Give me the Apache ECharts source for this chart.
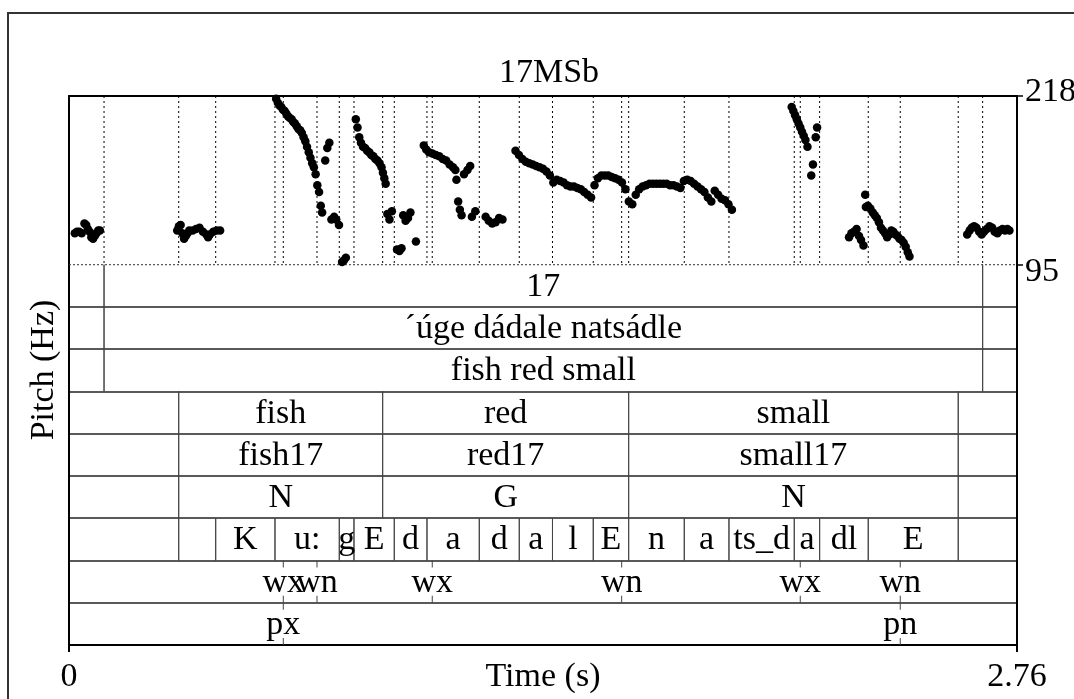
<!DOCTYPE html>
<html><head><meta charset="utf-8">
<script src="https://cdn.jsdelivr.net/npm/echarts@6/dist/echarts.min.js"></script>
<style>html,body{margin:0;padding:0;background:#fff}#c{width:1074px;height:699px}</style>
</head><body><div id="c"></div><script>
const FONT = '"Liberation Serif","Times New Roman",serif';
const FS = 34;
const chartTitle = '17MSb';
const timeMax = 2.76;
const timeTicks = [0, 2.76];
const pitchTicks = [95, 218];

// pitch track (s, Hz)
const pitchTimes = [
 0.017,0.023,0.030,0.037,0.045,0.050,0.055,0.060,0.065,0.070,0.075,0.080,0.085,0.090,
 0.315,0.320,0.325,0.330,0.335,0.340,0.345,0.350,0.360,0.370,0.380,0.390,0.400,0.405,0.410,0.420,0.430,0.440,
 0.598,0.603,0.608,0.613,0.618,0.623,0.628,0.633,0.638,0.643,0.648,0.653,0.658,0.663,0.668,0.673,0.678,0.683,0.688,0.693,0.698,0.703,0.708,0.713,0.718,0.723,0.728,0.733,0.737,
 0.746,0.752,0.758,0.764,0.772,0.778,0.786,0.795,0.800,0.806,
 0.835,0.840,0.845,0.850,0.856,0.862,0.868,0.874,0.880,0.886,0.892,0.898,0.904,0.910,0.914,0.918,0.922,
 0.927,0.933,0.940,0.955,0.962,0.968,0.973,0.980,0.987,0.994,1.010,
 1.033,1.040,1.048,1.058,1.068,1.078,1.088,1.098,1.108,1.118,1.125,1.128,1.133,1.138,1.143,1.150,1.160,1.168,1.173,1.183,
 1.213,1.222,1.232,1.242,1.252,1.262,
 1.30,1.31,1.32,1.33,1.34,1.35,1.36,1.37,1.38,1.39,1.40,1.41,1.42,1.43,1.44,1.45,1.46,1.47,1.48,1.49,
 1.50,1.51,1.52,1.53,1.54,1.55,1.56,1.57,1.58,1.59,1.60,1.61,1.62,1.63,1.64,1.65,1.66,1.67,1.68,1.69,
 1.70,1.71,1.72,1.73,1.74,1.75,1.76,1.77,1.78,1.79,1.80,1.81,1.82,1.83,1.84,1.85,1.86,1.87,1.88,1.89,
 1.90,1.91,1.92,1.93,
 2.104,2.109,2.114,2.119,2.124,2.129,2.134,2.139,2.144,2.150,2.161,2.166,2.174,2.178,
 2.271,2.278,2.285,2.293,2.300,2.306,2.313,
 2.318,2.320,2.326,2.333,2.340,2.346,2.352,2.358,2.364,2.370,2.376,2.382,2.388,2.394,2.400,2.406,2.412,2.418,2.424,2.430,2.436,2.442,2.447,
 2.615,2.622,2.628,2.635,2.642,2.650,2.657,2.664,2.672,2.680,2.688,2.695,2.703,2.710,2.718,2.725,2.732,2.738
];
const pitchHz = [
 118,119,119,118,125,124,121,119,115,114,116,118,120,120,
 120,123,124,118,114,116,118,120,120,121,122,119,117,115,117,119,120,120,
 219,216,213,211,210,208,207,205,203,202,201,199,198,196,194,193,191,188,185,181,177,173,169,166,161,153,148,138,133,
 171,180,184,128,130,128,124,97,98,100,
 201,195,188,184,181,180,178,177,175,174,172,171,169,166,162,158,154,
 132,128,134,106,105,107,131,127,129,133,112,
 182,179,177,176,175,174,172,171,168,166,164,157,141,135,131,161,164,167,130,134,
 130,127,125,126,129,128,
 178,175,172,170,169,168,167,166,165,163,160,155,157,156,155,153,152,152,151,150,
 148,146,144,153,158,160,160,160,159,158,157,155,150,141,139,146,150,152,153,154,
 154,154,154,154,154,153,153,152,151,156,157,156,154,152,150,148,144,141,149,146,
 143,142,139,135,
 210,207,204,201,198,195,192,189,186,181,160,168,188,195,
 115,118,119,121,116,113,109,
 146,137,138,136,133,131,129,126,122,120,118,115,117,120,119,117,116,114,113,111,108,104,101,
 117,120,122,123,122,119,117,119,121,123,122,119,118,120,121,120,121,120
];

// interval tiers
const sentenceBounds = [0, 0.102, 2.660, 2.76];
const tierNumLabels = ['', '17', ''];
const tierSentLabels = ['', '´úge dádale natsádle', ''];
const tierTransLabels = ['', 'fish red small', ''];
const wordBounds = [0, 0.3194, 0.9132, 1.6294, 2.5889, 2.76];
const wordLabels = ['', 'fish', 'red', 'small', ''];
const word17Labels = ['', 'fish17', 'red17', 'small17', ''];
const posLabels = ['', 'N', 'G', 'N', ''];
const phoneBounds = [0, 0.3194, 0.4271, 0.5997, 0.7869, 0.8297, 0.9470, 1.0422, 1.1945, 1.3109, 1.4076, 1.5263, 1.6294, 1.7913, 1.9214, 2.1115, 2.1854, 2.3269, 2.5889, 2.76];
const phoneLabels = ['', '', 'K', 'u:', 'g', 'E', 'd', 'a', 'd', 'a', 'l', 'E', 'n', 'a', 'ts_d', 'a', 'dl', 'E', ''];
// point tiers
const toneTimes = [0.6239, 0.7220, 1.0576, 1.6090, 2.1290, 2.4201];
const toneLabels = ['wx', 'wn', 'wx', 'wn', 'wx', 'wn'];
const phraseTimes = [0.6239, 2.4201];
const phraseLabels = ['px', 'pn'];

const intervalTiers = [
  [sentenceBounds, tierNumLabels],
  [sentenceBounds, tierSentLabels],
  [sentenceBounds, tierTransLabels],
  [wordBounds, wordLabels],
  [wordBounds, word17Labels],
  [wordBounds, posLabels],
  [phoneBounds, phoneLabels]
];
const pointTiers = [[7, toneTimes, toneLabels], [8, phraseTimes, phraseLabels]];

const intervalData = [], intervalText = [];
intervalTiers.forEach(([b, labs], ti) => {
  for (let i = 0; i < labs.length; i++) { intervalData.push([ti, b[i], b[i + 1]]); intervalText.push(labs[i]); }
});
const pointData = [], pointText = [];
pointTiers.forEach(([ti, ts, labs]) => ts.forEach((t, i) => { pointData.push([ti, t]); pointText.push(labs[i]); }));

const boundarySet = new Set();
intervalTiers.forEach(([b]) => b.forEach(t => { if (t > 0 && t < timeMax) boundarySet.add(t); }));
pointTiers.forEach(([, ts]) => ts.forEach(t => boundarySet.add(t)));
const boundaryTimes = Array.from(boundarySet).sort((a, b) => a - b);

const pitchData = pitchTimes.map((t, i) => [t, pitchHz[i]]);
const black = '#000';
const txt = {fontSize: FS, fontFamily: FONT, color: black};

const chart = echarts.init(document.getElementById('c'), null, {renderer: 'canvas'});
chart.setOption({
  animation: false,
  backgroundColor: '#fff',
  title: {text: chartTitle, left: 549, top: 56, textAlign: 'center', padding: 0,
    textStyle: {fontSize: FS, fontFamily: FONT, fontWeight: 'normal', color: black}},
  graphic: [
    {type: 'rect', shape: {x: 8, y: 13, width: 1200, height: 900}, style: {fill: 'none', stroke: '#333', lineWidth: 2}, silent: true},
    {type: 'text', x: 44, y: 370, rotation: Math.PI / 2, style: {text: 'Pitch (Hz)', align: 'center', verticalAlign: 'middle', fontSize: FS, fontFamily: FONT, fill: black}}
  ],
  grid: [
    {left: 69, top: 96, width: 948, height: 168.7, outerBoundsMode: 'none', containLabel: false},
    {left: 69, top: 264.7, width: 948, height: 380.3, outerBoundsMode: 'none', containLabel: false}
  ],
  xAxis: [
    {gridIndex: 0, type: 'value', min: 0, max: timeMax, position: 'top',
      axisLine: {show: true, onZero: false, lineStyle: {color: black, width: 2}},
      axisTick: {show: false}, axisLabel: {show: false}, splitLine: {show: false}},
    {gridIndex: 1, type: 'value', min: 0, max: timeMax, position: 'bottom',
      axisLine: {show: true, onZero: false, lineStyle: {color: black, width: 2}},
      axisTick: {show: true, length: 7, customValues: timeTicks, lineStyle: {color: black, width: 2}},
      axisLabel: Object.assign({customValues: timeTicks, margin: 15, showMinLabel: true, showMaxLabel: true}, txt),
      splitLine: {show: false},
      name: 'Time (s)', nameLocation: 'middle', nameGap: 15, nameMoveOverlap: false, nameTextStyle: txt}
  ],
  yAxis: [
    {gridIndex: 0, type: 'value', min: 95, max: 218, position: 'left',
      axisLine: {show: true, onZero: false, lineStyle: {color: black, width: 2}},
      axisTick: {show: false}, axisLabel: {show: false}, splitLine: {show: false}},
    {gridIndex: 0, type: 'value', min: 95, max: 218, position: 'right',
      axisLine: {show: true, onZero: false, lineStyle: {color: black, width: 2}},
      axisTick: {show: true, length: 6, customValues: pitchTicks, lineStyle: {color: black, width: 1.5}},
      axisLabel: {customValues: pitchTicks, margin: 8,
        formatter: v => (v === 218 ? '{a|' + v + '}' : '{b|' + v + '}'),
        rich: {a: Object.assign({padding: [0, 0, 7, 0]}, txt), b: Object.assign({padding: [14, 0, 0, 0]}, txt)}},
      splitLine: {show: false}},
    {gridIndex: 1, type: 'value', min: 0, max: 9, interval: 1, inverse: true, position: 'left',
      axisLine: {show: true, onZero: false, lineStyle: {color: black, width: 2}},
      axisTick: {show: false}, axisLabel: {show: false},
      splitLine: {show: true, showMinLine: false, showMaxLine: false, lineStyle: {color: '#222', width: 1.5}}},
    {gridIndex: 1, type: 'value', min: 0, max: 9, inverse: true, position: 'right',
      axisLine: {show: true, onZero: false, lineStyle: {color: black, width: 2}},
      axisTick: {show: false}, axisLabel: {show: false}, splitLine: {show: false}}
  ],
  series: [
    {type: 'custom', xAxisIndex: 0, yAxisIndex: 0, z: 1, silent: true, data: boundaryTimes.map(t => [t]),
      renderItem: (p, api) => {
        const a = api.coord([api.value(0), 218]), b = api.coord([api.value(0), 95]);
        return {type: 'line', shape: {x1: a[0], y1: a[1], x2: b[0], y2: b[1]},
          style: {stroke: black, lineWidth: 1, lineDash: [2, 3]}};
      }},
    {type: 'custom', xAxisIndex: 0, yAxisIndex: 0, z: 1, silent: true, data: [[0, 95, timeMax]],
      renderItem: (p, api) => {
        const a = api.coord([api.value(0), api.value(1)]), b = api.coord([api.value(2), api.value(1)]);
        return {type: 'line', shape: {x1: a[0], y1: a[1], x2: b[0], y2: b[1]},
          style: {stroke: '#333', lineWidth: 1, lineDash: [2, 2]}};
      }},
    {type: 'scatter', xAxisIndex: 0, yAxisIndex: 0, z: 3, symbol: 'circle', symbolSize: 8.5,
      itemStyle: {color: black, opacity: 1}, data: pitchData},
    {type: 'custom', xAxisIndex: 1, yAxisIndex: 2, z: 2, silent: true, data: intervalData,
      renderItem: (p, api) => {
        const ti = api.value(0), s = api.value(1), e = api.value(2);
        const top = api.coord([s, ti])[1], bot = api.coord([s, ti + 1])[1];
        const xs = api.coord([s, ti])[0], xe = api.coord([e, ti])[0];
        const ch = [];
        const ls = {stroke: '#444', lineWidth: 1};
        if (s > 0) ch.push({type: 'line', shape: {x1: xs, y1: top, x2: xs, y2: bot}, style: ls});
        if (e < timeMax) ch.push({type: 'line', shape: {x1: xe, y1: top, x2: xe, y2: bot}, style: ls});
        const lab = intervalText[p.dataIndex];
        if (lab) ch.push({type: 'text', z2: 5, style: {text: lab, x: (xs + xe) / 2, y: (top + bot) / 2 + 1,
          align: 'center', verticalAlign: 'middle', fontSize: FS, fontFamily: FONT, fill: black}});
        return {type: 'group', children: ch};
      }},
    {type: 'custom', xAxisIndex: 1, yAxisIndex: 2, z: 2, silent: true, data: pointData,
      renderItem: (p, api) => {
        const ti = api.value(0), t = api.value(1);
        const top = api.coord([t, ti])[1], bot = api.coord([t, ti + 1])[1];
        const x = api.coord([t, ti])[0];
        const ls = {stroke: '#444', lineWidth: 1};
        return {type: 'group', children: [
          {type: 'line', shape: {x1: x, y1: top, x2: x, y2: top + 7}, style: ls},
          {type: 'line', shape: {x1: x, y1: bot - 7, x2: x, y2: bot}, style: ls},
          {type: 'text', z2: 5, style: {text: pointText[p.dataIndex], x: x, y: (top + bot) / 2 + 1,
            align: 'center', verticalAlign: 'middle', fontSize: FS, fontFamily: FONT, fill: black}}
        ]};
      }}
  ]
});
</script></body></html>
